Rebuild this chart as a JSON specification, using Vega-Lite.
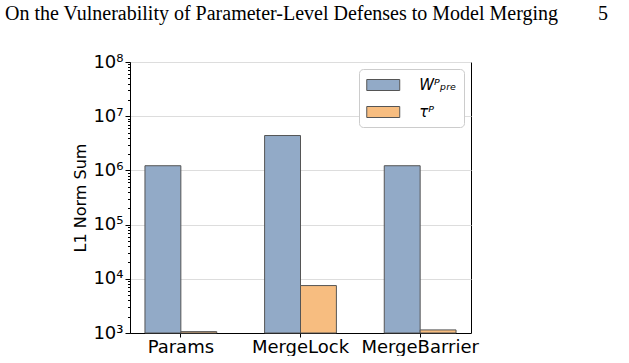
{
  "$schema": "https://vega.github.io/schema/vega-lite/v6.json",
  "width": 341,
  "height": 271,
  "padding": {"left": 5, "top": 4, "right": 5, "bottom": 0},
  "background": "white",
  "title": {
    "text": "On the Vulnerability of Parameter-Level Defenses to Model Merging\u00a0\u00a0\u00a0\u00a0\u00a0\u00a0\u00a0\u00a05",
    "anchor": "start",
    "frame": "group",
    "dx": -125,
    "offset": 29,
    "font": "Liberation Serif",
    "fontSize": 20,
    "fontWeight": "normal",
    "color": "black"
  },
  "data": {
    "values": [
      {"method": "Params", "series": "Wᴾₚᵣₑ", "norm": 1220000},
      {"method": "Params", "series": "τᴾ", "norm": 1060},
      {"method": "MergeLock", "series": "Wᴾₚᵣₑ", "norm": 4400000},
      {"method": "MergeLock", "series": "τᴾ", "norm": 7500},
      {"method": "MergeBarrier", "series": "Wᴾₚᵣₑ", "norm": 1220000},
      {"method": "MergeBarrier", "series": "τᴾ", "norm": 1140}
    ]
  },
  "mark": {"type": "bar", "stroke": "#555555", "strokeWidth": 1},
  "encoding": {
    "x": {
      "field": "method",
      "type": "nominal",
      "sort": ["Params", "MergeLock", "MergeBarrier"],
      "scale": {"paddingInner": 0.4, "paddingOuter": 0.125},
      "axis": {
        "title": null,
        "labelAngle": 0,
        "labelFont": "DejaVu Sans",
        "labelFontSize": 18,
        "labelColor": "black",
        "labelPadding": 1,
        "tickColor": "black",
        "tickSize": 4,
        "domainColor": "black",
        "grid": false
      }
    },
    "xOffset": {
      "field": "series",
      "sort": ["Wᴾₚᵣₑ", "τᴾ"],
      "scale": {"paddingInner": 0, "paddingOuter": 0}
    },
    "y": {
      "field": "norm",
      "type": "quantitative",
      "scale": {"type": "log", "domain": [1000, 100000000], "nice": false},
      "axis": {
        "title": "L1 Norm Sum",
        "titleFont": "DejaVu Sans",
        "titleFontSize": 16,
        "titleFontWeight": "normal",
        "titleColor": "black",
        "titlePadding": 4,
        "values": [1000, 2000, 3000, 4000, 5000, 6000, 7000, 8000, 9000,
                   10000, 20000, 30000, 40000, 50000, 60000, 70000, 80000, 90000,
                   100000, 200000, 300000, 400000, 500000, 600000, 700000, 800000, 900000,
                   1000000, 2000000, 3000000, 4000000, 5000000, 6000000, 7000000, 8000000, 9000000,
                   10000000, 20000000, 30000000, 40000000, 50000000, 60000000, 70000000, 80000000, 90000000,
                   100000000],
        "labelExpr": "abs(log(datum.value)/LN10 - round(log(datum.value)/LN10)) < 0.000001 ? '10' + ['⁰','¹','²','³','⁴','⁵','⁶','⁷','⁸','⁹'][round(log(datum.value)/LN10)] : ''",
        "labelFont": "DejaVu Sans",
        "labelFontSize": 18,
        "labelColor": "black",
        "labelPadding": 2,
        "labelOverlap": false,
        "labelBound": false,
        "labelFlush": false,
        "tickColor": "black",
        "tickSize": {
          "condition": {"test": "abs(log(datum.value)/LN10 - round(log(datum.value)/LN10)) < 0.000001", "value": 5},
          "value": 2.5
        },
        "domainColor": "black",
        "grid": true,
        "gridColor": "#dddddd",
        "gridWidth": 1,
        "gridOpacity": {
          "condition": {"test": "abs(log(datum.value)/LN10 - round(log(datum.value)/LN10)) < 0.000001", "value": 1},
          "value": 0
        }
      }
    },
    "y2": {"datum": 1000},
    "color": {
      "field": "series",
      "type": "nominal",
      "sort": ["Wᴾₚᵣₑ", "τᴾ"],
      "scale": {"range": ["#92aac7", "#f7bd80"]},
      "legend": {
        "title": null,
        "orient": "top-right",
        "offset": 7,
        "padding": 7,
        "fillColor": "white",
        "strokeColor": "#cccccc",
        "cornerRadius": 4,
        "symbolType": "M-2,-0.667H2V0.667H-2Z",
        "symbolSize": 272,
        "symbolOffset": 8.25,
        "symbolStrokeColor": "#555555",
        "symbolStrokeWidth": 1,
        "symbolOpacity": 1,
        "labelOffset": 27,
        "labelFont": "DejaVu Sans",
        "labelFontSize": 15,
        "labelFontStyle": "italic",
        "labelColor": "black",
        "rowPadding": 10
      }
    }
  },
  "config": {
    "view": {"stroke": "black", "strokeWidth": 1}
  }
}
